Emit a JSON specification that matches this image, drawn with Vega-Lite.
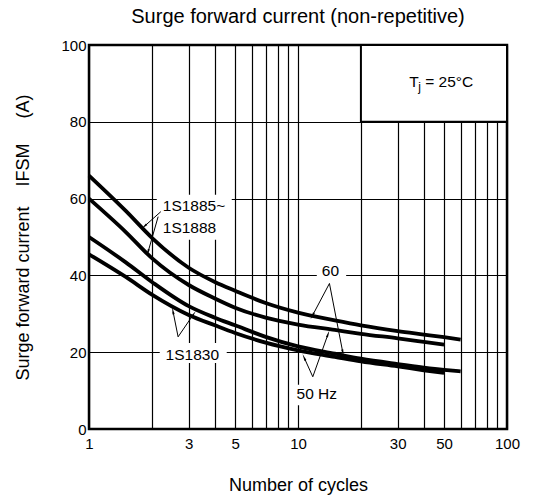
{
  "$schema": "https://vega.github.io/schema/vega-lite/v6.json",
  "autosize": "none",
  "width": 418,
  "height": 384,
  "padding": {"left": 89, "top": 45, "right": 26, "bottom": 70},
  "background": "white",
  "title": {"text": "Surge forward current (non-repetitive)", "font": "Liberation Sans", "fontSize": 20, "fontWeight": "normal", "color": "black", "anchor": "middle", "baseline": "alphabetic", "offset": -5},
  "config": {
    "view": {"stroke": "black", "strokeWidth": 2.5},
    "font": "Liberation Sans"
  },
  "datasets": {
    "curves": [
      {"c": "a", "x": 1, "y": 66}, {"c": "a", "x": 1.5, "y": 56.8}, {"c": "a", "x": 2, "y": 49.8}, {"c": "a", "x": 3, "y": 42}, {"c": "a", "x": 4, "y": 38.3}, {"c": "a", "x": 5, "y": 36}, {"c": "a", "x": 7, "y": 32.8}, {"c": "a", "x": 10, "y": 30.3}, {"c": "a", "x": 15, "y": 28.3}, {"c": "a", "x": 20, "y": 27}, {"c": "a", "x": 30, "y": 25.5}, {"c": "a", "x": 40, "y": 24.6}, {"c": "a", "x": 50, "y": 23.9}, {"c": "a", "x": 60, "y": 23.3},
      {"c": "b", "x": 1, "y": 60}, {"c": "b", "x": 1.5, "y": 51.3}, {"c": "b", "x": 2, "y": 44.5}, {"c": "b", "x": 3, "y": 37.5}, {"c": "b", "x": 4, "y": 34}, {"c": "b", "x": 5, "y": 31.6}, {"c": "b", "x": 7, "y": 29}, {"c": "b", "x": 10, "y": 27.2}, {"c": "b", "x": 15, "y": 25.8}, {"c": "b", "x": 20, "y": 24.8}, {"c": "b", "x": 30, "y": 23.6}, {"c": "b", "x": 40, "y": 22.7}, {"c": "b", "x": 50, "y": 22},
      {"c": "c", "x": 1, "y": 50}, {"c": "c", "x": 1.5, "y": 43.4}, {"c": "c", "x": 2, "y": 38.3}, {"c": "c", "x": 3, "y": 32}, {"c": "c", "x": 4, "y": 29}, {"c": "c", "x": 5, "y": 27}, {"c": "c", "x": 7, "y": 24}, {"c": "c", "x": 10, "y": 21.5}, {"c": "c", "x": 15, "y": 19.6}, {"c": "c", "x": 20, "y": 18.3}, {"c": "c", "x": 30, "y": 16.9}, {"c": "c", "x": 40, "y": 16}, {"c": "c", "x": 50, "y": 15.4}, {"c": "c", "x": 60, "y": 15},
      {"c": "d", "x": 1, "y": 45.5}, {"c": "d", "x": 1.5, "y": 39.6}, {"c": "d", "x": 2, "y": 35}, {"c": "d", "x": 3, "y": 29.7}, {"c": "d", "x": 4, "y": 27}, {"c": "d", "x": 5, "y": 25}, {"c": "d", "x": 7, "y": 22.5}, {"c": "d", "x": 10, "y": 20.5}, {"c": "d", "x": 15, "y": 18.8}, {"c": "d", "x": 20, "y": 17.6}, {"c": "d", "x": 30, "y": 16.3}, {"c": "d", "x": 40, "y": 15.3}, {"c": "d", "x": 50, "y": 14.6}
    ],
    "masks": [
      {"x": 2.11, "x2": 4.82, "y": 49.3, "y2": 61},
      {"x": 2.18, "x2": 4.56, "y": 17.2, "y2": 22.4},
      {"x": 12.3, "x2": 17.0, "y": 38.3, "y2": 43.5},
      {"x": 9.4, "x2": 16.3, "y": 6.2, "y2": 11.5}
    ],
    "tjbox": [{"x": 20, "x2": 100, "y": 80, "y2": 100}],
    "arrows": [
      {"x": 2.207, "y": 56.6, "x2": 1.851, "y2": 52.9, "a": 228},
      {"x": 2.142, "y": 55.3, "x2": 1.919, "y2": 46.2, "a": 196},
      {"x": 2.669, "y": 24.0, "x2": 2.526, "y2": 30.5, "a": 349},
      {"x": 2.669, "y": 24.0, "x2": 3.147, "y2": 29.7, "a": 35},
      {"x": 14.14, "y": 37.9, "x2": 11.77, "y2": 29.7, "a": 208},
      {"x": 14.14, "y": 37.9, "x2": 16.36, "y2": 20.1, "a": 169},
      {"x": 11.77, "y": 13.6, "x2": 10.74, "y2": 18.4, "a": 336},
      {"x": 11.77, "y": 13.6, "x2": 13.88, "y2": 24.5, "a": 20}
    ],
    "leftlabels": [
      {"x": 2.254, "y": 58.1, "t": "1S1885~"},
      {"x": 2.254, "y": 52.3, "t": "1S1888"},
      {"x": 34.05, "y": 90.4, "t": "T"},
      {"x": 40.6, "y": 90.4, "t": "= 25°C"}
    ],
    "sub": [{"x": 37.6, "y": 90.4, "t": "j"}],
    "centerlabels": [
      {"x": 3.12, "y": 19.3, "t": "1S1830"},
      {"x": 14.3, "y": 41.1, "t": "60"},
      {"x": 12.3, "y": 9.1, "t": "50 Hz"}
    ]
  },
  "layer": [
    {
      "data": {"name": "masks"},
      "mark": {"type": "rect", "fill": "white", "strokeWidth": 0},
      "encoding": {
        "x": {"field": "x", "type": "quantitative", "scale": {"type": "log", "domain": [1, 100], "nice": false},
          "axis": {"values": [1,2,3,4,5,6,7,8,9,10,20,30,40,50,60,70,80,90,100], "grid": true, "gridColor": "black", "gridWidth": 1.2, "gridOpacity": 1, "ticks": false, "domain": false,
            "labelExpr": "indexof([1,3,5,10,30,50,100], datum.value) >= 0 ? '' + datum.value : ''",
            "labelOverlap": false, "labelFlush": false, "labelFont": "Liberation Sans", "labelFontSize": 15, "labelColor": "black", "labelPadding": 7,
            "title": "Number of cycles", "titleFont": "Liberation Sans", "titleFontSize": 18, "titleFontWeight": "normal", "titleColor": "black", "titleX": 209, "titleY": 61, "titleBaseline": "alphabetic", "titleAnchor": null, "titleAlign": "center"}},
        "x2": {"field": "x2"},
        "y": {"field": "y", "type": "quantitative", "scale": {"domain": [0, 100], "nice": false},
          "axis": {"values": [0,10,20,30,40,50,60,70,80,90,100], "grid": true, "gridColor": "black", "gridWidth": 1.2, "gridOpacity": 1, "ticks": false, "domain": false,
            "labelExpr": "datum.value % 20 == 0 ? '' + datum.value : ''",
            "labelOverlap": false, "labelFlush": false, "labelFont": "Liberation Sans", "labelFontSize": 15, "labelColor": "black", "labelPadding": 3,
            "title": "Surge forward current\u00a0\u00a0\u00a0\u00a0IFSM\u00a0\u00a0\u00a0\u00a0\u00a0(A)", "titleFont": "Liberation Sans", "titleFontSize": 18, "titleFontWeight": "normal", "titleColor": "black", "titleX": -61, "titleY": 192, "titleAngle": -90, "titleBaseline": "alphabetic", "titleAlign": "center", "titleAnchor": null}},
        "y2": {"field": "y2"}
      }
    },
    {
      "data": {"name": "tjbox"},
      "mark": {"type": "rect", "fill": "white", "stroke": "black", "strokeWidth": 2},
      "encoding": {
        "x": {"field": "x", "type": "quantitative"},
        "x2": {"field": "x2"},
        "y": {"field": "y", "type": "quantitative"},
        "y2": {"field": "y2"}
      }
    },
    {
      "data": {"name": "curves"},
      "mark": {"type": "line", "color": "black", "strokeWidth": 3.8, "interpolate": "monotone", "strokeCap": "butt"},
      "encoding": {
        "x": {"field": "x", "type": "quantitative"},
        "y": {"field": "y", "type": "quantitative"},
        "detail": {"field": "c", "type": "nominal"}
      }
    },
    {
      "data": {"name": "arrows"},
      "mark": {"type": "rule", "color": "black", "strokeWidth": 1},
      "encoding": {
        "x": {"field": "x", "type": "quantitative"},
        "y": {"field": "y", "type": "quantitative"},
        "x2": {"field": "x2"},
        "y2": {"field": "y2"}
      }
    },
    {
      "data": {"name": "arrows"},
      "mark": {"type": "point", "shape": "wedge", "filled": true, "color": "black", "size": 70, "opacity": 1},
      "encoding": {
        "x": {"field": "x2", "type": "quantitative"},
        "y": {"field": "y2", "type": "quantitative"},
        "angle": {"field": "a", "type": "quantitative", "scale": null}
      }
    },
    {
      "data": {"name": "leftlabels"},
      "mark": {"type": "text", "align": "left", "baseline": "middle", "font": "Liberation Sans", "fontSize": 15.5, "color": "black"},
      "encoding": {
        "x": {"field": "x", "type": "quantitative"},
        "y": {"field": "y", "type": "quantitative"},
        "text": {"field": "t"}
      }
    },
    {
      "data": {"name": "sub"},
      "mark": {"type": "text", "align": "left", "baseline": "middle", "font": "Liberation Sans", "fontSize": 12, "dy": 5, "color": "black"},
      "encoding": {
        "x": {"field": "x", "type": "quantitative"},
        "y": {"field": "y", "type": "quantitative"},
        "text": {"field": "t"}
      }
    },
    {
      "data": {"name": "centerlabels"},
      "mark": {"type": "text", "align": "center", "baseline": "middle", "font": "Liberation Sans", "fontSize": 15.5, "color": "black"},
      "encoding": {
        "x": {"field": "x", "type": "quantitative"},
        "y": {"field": "y", "type": "quantitative"},
        "text": {"field": "t"}
      }
    }
  ]
}
